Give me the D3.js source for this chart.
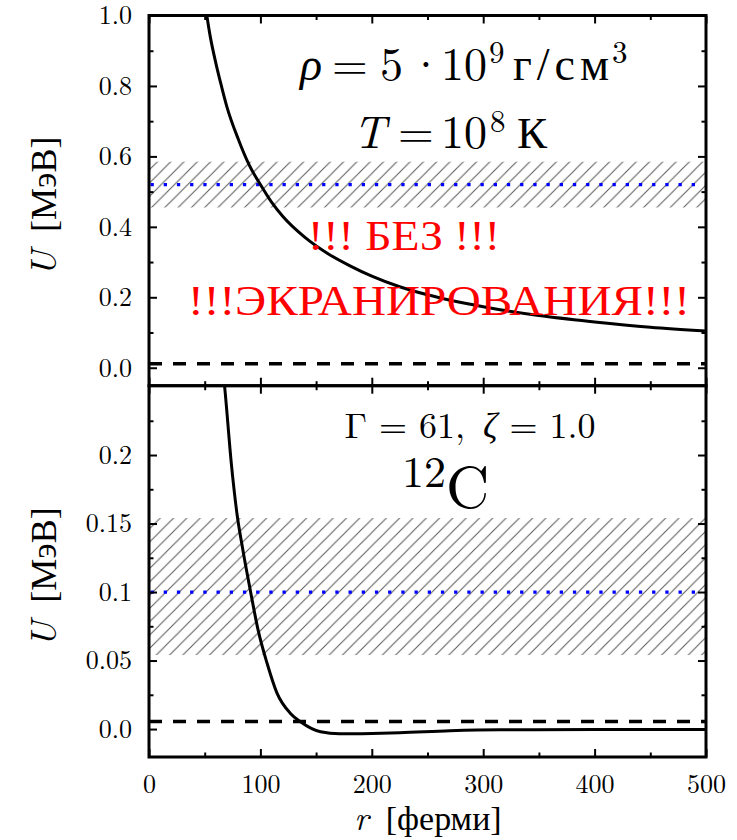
<!DOCTYPE html>
<html>
<head>
<meta charset="utf-8">
<script src="https://cdn.jsdelivr.net/npm/d3@7"></script>
<style>
  body { margin: 0; background: #fff; }
  svg { display: block; }
</style>
</head>
<body>
<svg id="chart" width="737" height="840"></svg>
<script>
// ---- data ----
const rMajor = [0, 100, 200, 300, 400, 500];
const rMinor = [50, 150, 250, 350, 450];

const topMajor = [0, 0.2, 0.4, 0.6, 0.8, 1.0];
const topMinor = [0.1, 0.3, 0.5, 0.7, 0.9];
const topLabels = ["0.0", "0.2", "0.4", "0.6", "0.8", "1.0"];

const botMajor = [0, 0.05, 0.1, 0.15, 0.2];
const botMinor = [0.025, 0.075, 0.125, 0.175, 0.225];
const botLabels = ["0.0", "0.05", "0.1", "0.15", "0.2"];

// unscreened potential (top)
const topR = [50, 55, 60, 65, 70, 80, 90, 100, 110, 120, 140, 160, 180, 200, 225, 250, 300, 350, 400, 450, 500];
const topU = [1.04, 0.94, 0.865, 0.80, 0.74, 0.65, 0.575, 0.52, 0.47, 0.43, 0.37, 0.325, 0.29, 0.26, 0.23, 0.207, 0.173, 0.148, 0.13, 0.115, 0.104];

// screened potential (bottom)
const botR = [66, 68, 74, 79, 84, 91, 98, 106, 115, 127, 136, 154, 171, 200, 225, 270, 315, 400, 500];
const botU = [0.265, 0.249, 0.193, 0.157, 0.132, 0.101, 0.072, 0.048, 0.026, 0.0114, 0.0053, -0.002, -0.0035, -0.0032, -0.0027, -0.0013, -0.0006, -0.0004, -0.0003];

// horizontal levels: [band low, band high], dotted level, dashed level
const topBand = [0.455, 0.585], topLevel = 0.52, topDash = 0.011;
const botBand = [0.054, 0.154], botLevel = 0.1, botDash = 0.0055;

const FONT = "Latin Modern Roman";
const CYR = "Liberation Serif";

// ---- layout ----
const svg = d3.select("#chart");
const left = 149, right = 706;
const x = d3.scaleLinear().domain([0, 500]).range([left, right]);

const panels = [
  { id: "top", y0: 15.5, y1: 385.7, domain: [-0.051, 1.0],
    major: topMajor, minor: topMinor, labels: topLabels,
    r: topR, u: topU, band: topBand, level: topLevel, dash: topDash },
  { id: "bot", y0: 385.7, y1: 757, domain: [-0.0204, 0.2506],
    major: botMajor, minor: botMinor, labels: botLabels,
    r: botR, u: botU, band: botBand, level: botLevel, dash: botDash },
];

function txt(sel) {
  return sel.append("text").style("font-family", FONT).style("fill", "#000");
}
// a piece of a formula placed at its own left edge
function piece(t, px, py, s, size, font, italic) {
  const sp = t.append("tspan").attr("x", px).attr("y", py).text(s);
  if (size) sp.attr("font-size", size);
  if (font) sp.style("font-family", font);
  if (italic) sp.attr("font-style", "italic");
  return sp;
}

const defs = svg.append("defs");
const hatch = defs.append("pattern")
  .attr("id", "hatch")
  .attr("patternUnits", "userSpaceOnUse")
  .attr("width", 13.3).attr("height", 13.3);
hatch.append("path")
  .attr("d", "M0,13.3 L13.3,0 M-3,3 L3,-3 M10.3,16.3 L16.3,10.3")
  .attr("stroke", "#555").attr("stroke-width", 1);

panels.forEach(p => {
  const y = d3.scaleLinear().domain(p.domain).range([p.y1, p.y0]);

  defs.append("clipPath").attr("id", "clip-" + p.id)
    .append("rect")
    .attr("x", left).attr("y", p.y0)
    .attr("width", right - left).attr("height", p.y1 - p.y0);

  const g = svg.append("g").attr("clip-path", `url(#clip-${p.id})`);

  g.append("rect")
    .attr("x", left).attr("width", right - left)
    .attr("y", y(p.band[1])).attr("height", y(p.band[0]) - y(p.band[1]))
    .attr("fill", "url(#hatch)");

  g.append("line")
    .attr("x1", left + 1.5).attr("x2", right)
    .attr("y1", y(p.level)).attr("y2", y(p.level))
    .attr("stroke", "#0000ff").attr("stroke-width", 3.3)
    .attr("stroke-dasharray", "3.3 9.9");

  g.append("line")
    .attr("x1", left).attr("x2", right)
    .attr("y1", y(p.dash)).attr("y2", y(p.dash))
    .attr("stroke", "#000").attr("stroke-width", 3.5)
    .attr("stroke-dasharray", "13 11");

  const line = d3.line()
    .x((d, i) => x(p.r[i]))
    .y(d => y(d))
    .curve(d3.curveMonotoneX);

  g.append("path")
    .attr("d", line(p.u))
    .attr("fill", "none")
    .attr("stroke", "#000").attr("stroke-width", 3);

  // inward ticks on all four sides
  const tickAxes = [
    [d3.axisLeft(y), `translate(${left},0)`, p.major, 8],
    [d3.axisLeft(y), `translate(${left},0)`, p.minor, 4.5],
    [d3.axisRight(y), `translate(${right},0)`, p.major, 8],
    [d3.axisRight(y), `translate(${right},0)`, p.minor, 4.5],
    [d3.axisTop(x), `translate(0,${p.y0})`, rMajor, 8],
    [d3.axisTop(x), `translate(0,${p.y0})`, rMinor, 4.5],
    [d3.axisBottom(x), `translate(0,${p.y1})`, rMajor, 8],
    [d3.axisBottom(x), `translate(0,${p.y1})`, rMinor, 4.5],
  ];
  tickAxes.forEach(([ax, tr, vals, len]) => {
    const a = svg.append("g").attr("transform", tr)
      .call(ax.tickValues(vals).tickSize(-len).tickFormat(""));
    a.select(".domain").remove();
    a.selectAll("line").attr("stroke", "#000").attr("stroke-width", 2);
  });

  // y labels
  const yl = svg.append("g").attr("transform", `translate(${left},0)`)
    .call(d3.axisLeft(y).tickValues(p.major).tickSize(0).tickPadding(17)
      .tickFormat((d, i) => p.labels[i]));
  yl.attr("font-family", null);
  yl.select(".domain").remove();
  yl.selectAll("text")
    .style("font-family", FONT)
    .attr("font-size", 26).attr("fill", "#000");

  // frame
  svg.append("rect")
    .attr("x", left).attr("y", p.y0)
    .attr("width", right - left).attr("height", p.y1 - p.y0)
    .attr("fill", "none").attr("stroke", "#000").attr("stroke-width", 3);

  // y axis title
  const t = txt(svg)
    .attr("transform", `translate(56,${(p.y0 + p.y1) / 2 + 6}) rotate(-90)`)
    .attr("text-anchor", "middle").attr("font-size", 36);
  t.append("tspan").attr("font-style", "italic").text("U");
  t.append("tspan").style("font-family", CYR).text("\u2002[МэВ]");
});

// x labels under bottom panel
const xl = svg.append("g").attr("transform", `translate(0,${panels[1].y1})`)
  .call(d3.axisBottom(x).tickValues(rMajor).tickSize(0).tickPadding(18)
    .tickFormat(d3.format("d")));
xl.attr("font-family", null);
xl.select(".domain").remove();
xl.selectAll("text")
  .style("font-family", FONT)
  .attr("font-size", 26).attr("fill", "#000");

const xt = txt(svg)
  .attr("x", 428).attr("y", 830)
  .attr("text-anchor", "middle").attr("font-size", 34);
xt.append("tspan").attr("font-style", "italic").text("r");
xt.append("tspan").style("font-family", CYR).text("\u2002[ферми]");

// ---- annotations ----
const a1 = txt(svg).attr("font-size", 46);
piece(a1, 300, 80, "ρ", null, null, true);
piece(a1, 332, 80, "=");
piece(a1, 380, 80, "5");
piece(a1, 408, 80, "·");
piece(a1, 441, 80, "10");
piece(a1, 489, 63, "9", 31);
piece(a1, 513, 80, "г/см", 46, CYR)
  .attr("textLength", 96).attr("lengthAdjust", "spacing");
piece(a1, 612, 63, "3", 31);

const a2 = txt(svg).attr("font-size", 46);
piece(a2, 353, 148, "T", null, null, true);
piece(a2, 398, 148, "=");
piece(a2, 441, 148, "10");
piece(a2, 490, 132, "8", 31);
piece(a2, 517, 148, "К", 45, CYR);

txt(svg).attr("x", 308).attr("y", 250)
  .attr("font-size", 42).style("font-family", CYR)
  .attr("textLength", 192).attr("lengthAdjust", "spacingAndGlyphs")
  .style("fill", "#ff0000").text("!!! БЕЗ !!!");
txt(svg).attr("x", 188).attr("y", 315)
  .attr("font-size", 42).style("font-family", CYR)
  .attr("textLength", 502).attr("lengthAdjust", "spacingAndGlyphs")
  .style("fill", "#ff0000").text("!!!ЭКРАНИРОВАНИЯ!!!");

const b1 = txt(svg).attr("x", 470).attr("y", 438)
  .attr("text-anchor", "middle").attr("font-size", 36);
b1.append("tspan").text("Γ = 61,\u2002");
b1.append("tspan").attr("font-style", "italic").text("ζ");
b1.append("tspan").text(" = 1.0");

const b2 = txt(svg).attr("x", 402).attr("y", 487).attr("font-size", 44);
b2.append("tspan").text("12");
b2.append("tspan").attr("font-size", 60).attr("dy", 21).text("C");
</script>
</body>
</html>
